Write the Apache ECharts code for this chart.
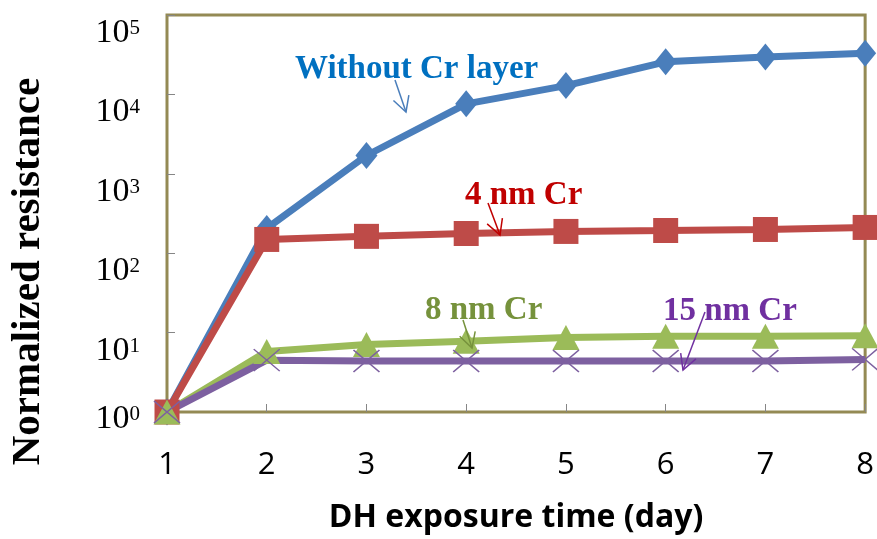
<!DOCTYPE html>
<html>
<head>
<meta charset="utf-8">
<script src="https://cdn.jsdelivr.net/npm/echarts@6/dist/echarts.min.js"></script>
<style>
html,body{margin:0;padding:0;background:#fff;}
#c{width:877px;height:539px;}
</style>
</head>
<body>
<div id="c"></div>
<script>
const days = [1, 2, 3, 4, 5, 6, 7, 8];
const withoutCr = [1, 205, 1700, 7600, 12900, 25700, 29600, 33000];
const cr4nm = [1, 149, 163, 177, 188, 193, 199, 211];
const cr8nm = [1, 5.8, 7.1, 7.8, 8.7, 9.0, 9.0, 9.1];
const cr15nm = [1, 4.5, 4.4, 4.4, 4.4, 4.4, 4.4, 4.6];
const yTicks = [1, 10, 100, 1000, 10000, 100000];

const chart = echarts.init(document.getElementById('c'), null, {renderer: 'canvas'});
const pair = arr => days.map((d, i) => [d, arr[i]]);
const serif = '"Liberation Serif", "Times New Roman", serif';
const sans = '"Open Sans", "Noto Sans", sans-serif';

function arrow(x1, y1, x2, y2, color) {
  const ang = Math.atan2(y1 - y2, x1 - x2);
  const L = 17, a = 0.5;
  const p1 = [x2 + L * Math.cos(ang + a), y2 + L * Math.sin(ang + a)];
  const p2 = [x2 + L * Math.cos(ang - a), y2 + L * Math.sin(ang - a)];
  return [
    {type: 'polyline', shape: {points: [[x1, y1], [x2, y2]]}, style: {stroke: color, lineWidth: 1.5, fill: null}, z: 100},
    {type: 'polyline', shape: {points: [p1, [x2, y2], p2]}, style: {stroke: color, lineWidth: 1.5, fill: null}, z: 100}
  ];
}
function label(text, x, y, color) {
  return {type: 'text', x: x, y: y, z: 100,
    style: {text: text, fill: color, font: 'bold 33px ' + serif, align: 'left', verticalAlign: 'middle'}};
}

const option = {
  animation: false,
  grid: {left: 166, right: 11, top: 15, bottom: 126, show: true, borderColor: '#948A54', borderWidth: 3},
  xAxis: {
    type: 'value', min: 1, max: 8, interval: 1,
    name: 'DH exposure time (day)', nameLocation: 'middle', nameGap: 90,
    nameTextStyle: {fontFamily: sans, fontWeight: 'bold', fontSize: 32, color: '#000'},
    axisLine: {show: false},
    axisTick: {show: true, inside: true, length: 8, lineStyle: {color: '#868686', width: 1}},
    splitLine: {show: false},
    axisLabel: {fontFamily: sans, fontSize: 31, color: '#000', margin: 38}
  },
  yAxis: {
    type: 'log', logBase: 10, min: 1, max: 100000,
    name: 'Normalized resistance', nameLocation: 'middle', nameGap: 118, nameRotate: 90,
    nameTextStyle: {fontFamily: serif, fontWeight: 'bold', fontSize: 41, color: '#000', padding: [0, 116, 0, 0]},
    axisLine: {show: false},
    axisTick: {show: true, inside: true, length: 8, lineStyle: {color: '#868686', width: 1}},
    splitLine: {show: false},
    axisLabel: {
      margin: 27, verticalAlign: 'middle',
      formatter: v => {
        const e = Math.round(Math.log10(v));
        return e === 0 ? '{b0|10}{s0|' + e + '}' : '{b|10}{s|' + e + '}';
      },
      rich: {
        b: {fontFamily: serif, fontSize: 34, color: '#000', padding: [36, 0, 0, 0]},
        s: {fontFamily: serif, fontSize: 21, verticalAlign: 'top', color: '#000', padding: [38, 0, 0, 0]},
        b0: {fontFamily: serif, fontSize: 34, color: '#000', padding: [14, 0, 0, 0]},
        s0: {fontFamily: serif, fontSize: 21, verticalAlign: 'top', color: '#000', padding: [16, 0, 0, 0]}
      }
    }
  },
  series: [
    {name: 'Without Cr layer', type: 'line', data: pair(withoutCr), clip: false,
     symbol: 'diamond', symbolSize: [22, 27],
     lineStyle: {color: '#4A7EBB', width: 7}, itemStyle: {color: '#4A7EBB'}},
    {name: '4 nm Cr', type: 'line', data: pair(cr4nm), clip: false,
     symbol: 'rect', symbolSize: [25, 25],
     lineStyle: {color: '#BE4B48', width: 7}, itemStyle: {color: '#BE4B48'}},
    {name: '8 nm Cr', type: 'line', data: pair(cr8nm), clip: false,
     symbol: 'triangle', symbolSize: [27, 25],
     lineStyle: {color: '#9BBB59', width: 7}, itemStyle: {color: '#9BBB59'}},
    {name: '15 nm Cr', type: 'line', data: pair(cr15nm), clip: false,
     symbol: 'path://M0,0L10,10M10,0L0,10', symbolSize: [26, 22],
     lineStyle: {color: '#7D60A0', width: 7},
     itemStyle: {color: 'none', borderColor: '#7D60A0', borderWidth: 1.5}}
  ],
  graphic: [
    label('Without Cr layer', 295, 69, '#0070C0'),
    label('4 nm Cr', 465, 195, '#C00000'),
    label('8 nm Cr', 425, 310, '#76923C'),
    label('15 nm Cr', 663, 311, '#7030A0'),
    ...arrow(395, 80, 406, 112, '#4A7EBB'),
    ...arrow(488, 203, 500, 235, '#C00000'),
    ...arrow(463, 320, 472, 348, '#76923C'),
    ...arrow(705, 312, 683, 370, '#7030A0')
  ]
};
chart.setOption(option);
</script>
</body>
</html>
